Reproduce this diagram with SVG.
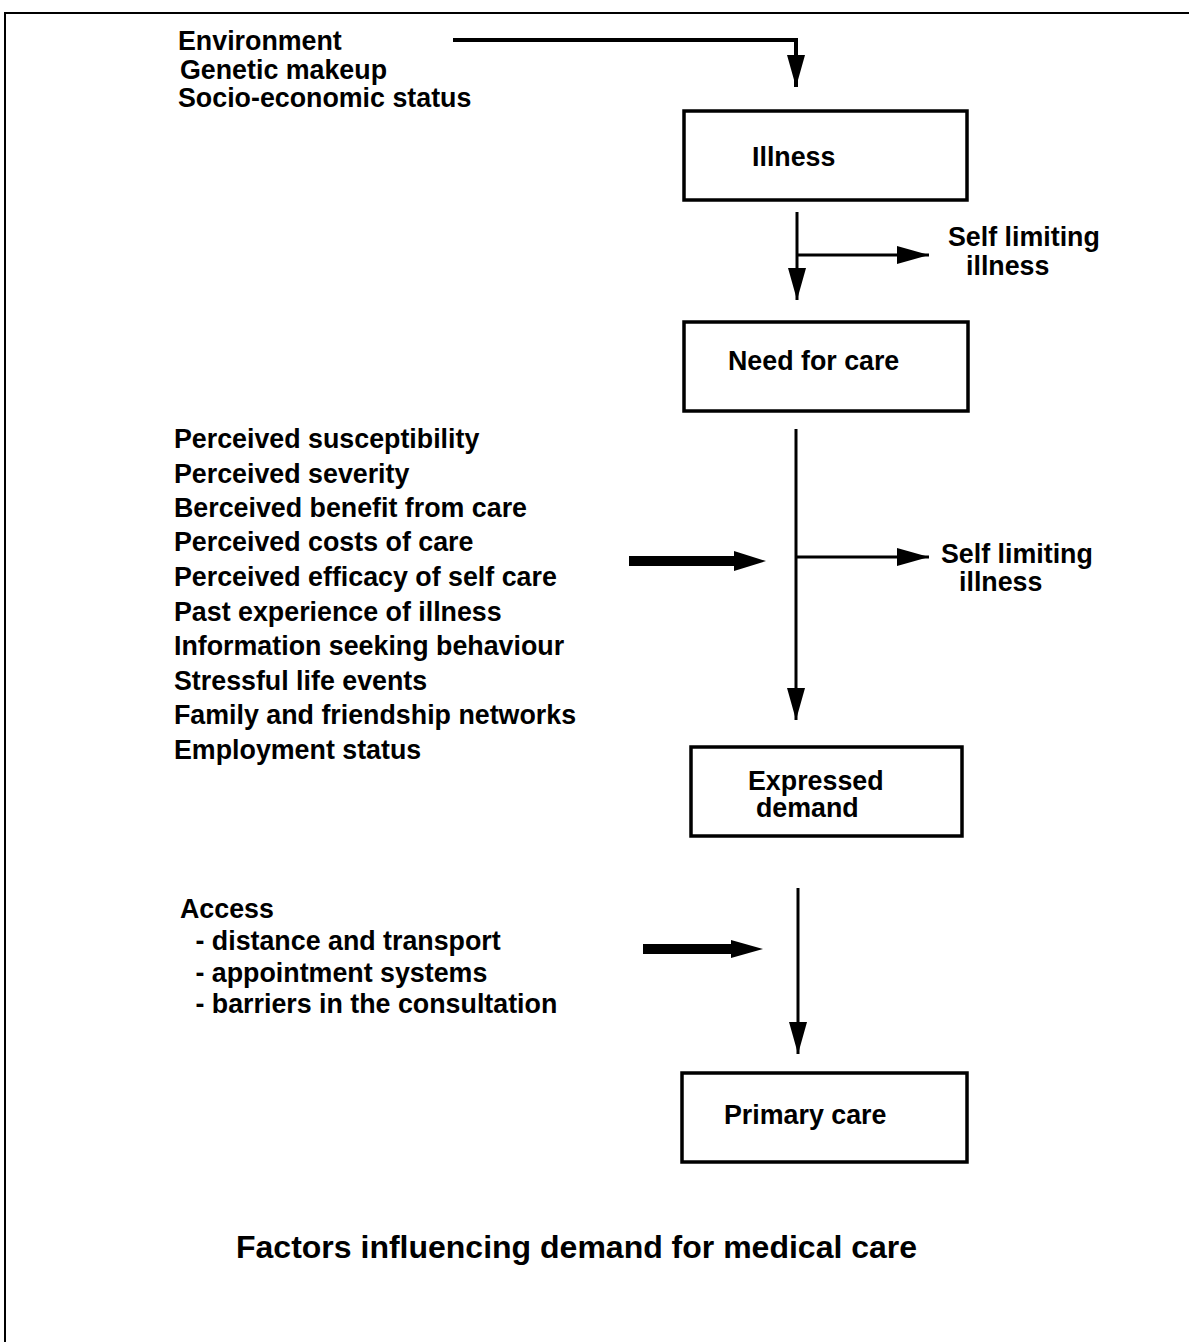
<svg xmlns="http://www.w3.org/2000/svg" width="1189" height="1342" viewBox="0 0 1189 1342">
<style>
  .t{font-family:"Liberation Sans",Arial,sans-serif;font-weight:bold;font-size:26.8px;fill:#000}
  .title{font-family:"Liberation Sans",Arial,sans-serif;font-weight:bold;font-size:32px;fill:#000}
  .box{fill:#fff;stroke:#000;stroke-width:3.5}
  .ln{fill:none;stroke:#000;stroke-width:3}
  .ln4{fill:none;stroke:#000;stroke-width:4}
  .thick{fill:none;stroke:#000;stroke-width:10}
</style>
<defs>
  <marker id="ah" markerUnits="userSpaceOnUse" markerWidth="32" markerHeight="18" refX="32" refY="9" orient="auto">
    <path d="M0,0 L32,9 L0,18 z" fill="#000"/>
  </marker>
</defs>
<rect width="1189" height="1342" fill="#fff"/>
<g id="frame">
  <path d="M5,1342 L5,13 L1189,13" fill="none" stroke="#000" stroke-width="2"/>
</g>
<g id="connectors">
  <path class="ln4" d="M453,40 L796,40 L796,87" marker-end="url(#ah)"/>
  <path class="ln" d="M797,212 L797,300" marker-end="url(#ah)"/>
  <path class="ln" d="M797,255 L929,255" marker-end="url(#ah)"/>
  <path class="ln" d="M796,429 L796,720" marker-end="url(#ah)"/>
  <path class="ln" d="M796,557 L929,557" marker-end="url(#ah)"/>
  <path class="thick" d="M629,561 L736,561"/>
  <path d="M734,551 L766,561 L734,571 z" fill="#000"/>
  <path class="ln" d="M798,888 L798,1054" marker-end="url(#ah)"/>
  <path class="thick" d="M643,949 L733,949"/>
  <path d="M731,940 L763,949 L731,958 z" fill="#000"/>
</g>
<g id="factors-top">
  <text class="t" x="178" y="50">Environment</text>
  <text class="t" x="180" y="79">Genetic makeup</text>
  <text class="t" x="178" y="107">Socio-economic status</text>
</g>
<g id="illness">
  <rect class="box" x="684" y="111" width="283" height="89"/>
  <text class="t" x="752" y="166">Illness</text>
</g>
<g id="self-limiting-1">
  <text class="t" x="948" y="246">Self limiting</text>
  <text class="t" x="966" y="275">illness</text>
</g>
<g id="need-for-care">
  <rect class="box" x="684" y="322" width="284" height="89"/>
  <text class="t" x="728" y="370">Need for care</text>
</g>
<g id="perception-factors">
  <text class="t" x="174" y="448">Perceived susceptibility</text>
  <text class="t" x="174" y="483">Perceived severity</text>
  <text class="t" x="174" y="517">Berceived benefit from care</text>
  <text class="t" x="174" y="551">Perceived costs of care</text>
  <text class="t" x="174" y="586">Perceived efficacy of self care</text>
  <text class="t" x="174" y="621">Past experience of illness</text>
  <text class="t" x="174" y="655">Information seeking behaviour</text>
  <text class="t" x="174" y="690">Stressful life events</text>
  <text class="t" x="174" y="724">Family and friendship networks</text>
  <text class="t" x="174" y="759">Employment status</text>
</g>
<g id="self-limiting-2">
  <text class="t" x="941" y="563">Self limiting</text>
  <text class="t" x="959" y="591">illness</text>
</g>
<g id="expressed-demand">
  <rect class="box" x="691" y="747" width="271" height="89"/>
  <text class="t" x="748" y="790">Expressed</text>
  <text class="t" x="756" y="817">demand</text>
</g>
<g id="access-factors">
  <text class="t" x="180" y="918">Access</text>
  <text class="t" x="188" y="950" xml:space="preserve"> - distance and transport</text>
  <text class="t" x="188" y="982" xml:space="preserve"> - appointment systems</text>
  <text class="t" x="188" y="1013" xml:space="preserve"> - barriers in the consultation</text>
</g>
<g id="primary-care">
  <rect class="box" x="682" y="1073" width="285" height="89"/>
  <text class="t" x="724" y="1124">Primary care</text>
</g>
<g id="title">
  <text class="title" x="236" y="1258">Factors influencing demand for medical care</text>
</g>
</svg>
